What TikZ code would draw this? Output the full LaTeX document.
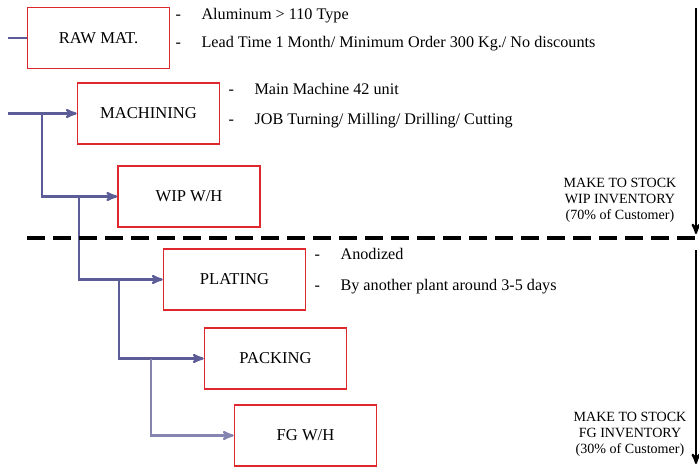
\documentclass[tikz,border=0pt]{standalone}
\usepackage{fontspec}
\setmainfont{Liberation Serif}
\usetikzlibrary{positioning}
\usetikzlibrary{arrows}
\usetikzlibrary{calc}
\definecolor{boxred}{RGB}{222,40,45}
\definecolor{flowblue}{RGB}{92,92,150}
\tikzset{
    x=0.025cm, y=-0.025cm,
    every node/.append style={
        font=\fontsize{11}{13}\selectfont
    },
    stagebox/.style={
        draw=boxred,
        line width=1.1pt,
        minimum width=3.55cm,
        minimum height=1.52cm,
        inner sep=0pt,
        font=\fontsize{11.8}{13}\selectfont
    },
    flow/.style={
        draw=flowblue,
        line width=1.6pt,
        ->,>=stealth'
    },
    note/.style={
        anchor=west,
        inner sep=0pt,
        text height=1.6ex,
        text depth=0.4ex,
        font=\fontsize{11.5}{13}\selectfont
    },
    stocknote/.style={
        align=center,
        inner sep=0pt,
        font=\fontsize{10}{11.4}\selectfont
    },
    stockarrow/.style={
        draw=black,
        line width=1.5pt,
        ->,>=stealth'
    },
    divider/.style={
        draw=black,
        line width=2.2pt,
        dash pattern=on 0.45cm off 0.2cm
    }
}

\begin{document}
\begin{tikzpicture}
                \useasboundingbox (0,0) rectangle (699,468);

                % stages
                \node[stagebox] (raw) at (98.5,38) {RAW MAT.};
                \node[stagebox] (mach) at (148.5,113.5) {MACHINING};
                \node[stagebox] (wip) at (189,196.5) {WIP W/H};
                \node[stagebox] (plat) at (234.5,279.5) {PLATING};
                \node[stagebox] (pack) at (275.5,358.5) {PACKING};
                \node[stagebox] (fg) at (305.5,435.5) {FG W/H};

                % notes beside the stages
                \node[note] (rawdA) at ($(raw.east)+(5,-22)$) {-};
                \node[note] (rawA) at ($(raw.east)+(31,-22)$) {Aluminum > 110 Type};
                \node[note] (rawdB) at ($(raw.east)+(5,6)$) {-};
                \node[note] (rawB) at ($(raw.east)+(31,6)$) {Lead Time 1 Month/ Minimum Order 300 Kg./ No discounts};
                \node[note] (machdA) at ($(mach.east)+(8,-22.5)$) {-};
                \node[note] (machA) at ($(mach.east)+(34,-22.5)$) {Main Machine 42 unit};
                \node[note] (machdB) at ($(mach.east)+(8,7.5)$) {-};
                \node[note] (machB) at ($(mach.east)+(34,7.5)$) {JOB Turning/ Milling/ Drilling/ Cutting};
                \node[note] (platdA) at ($(plat.east)+(8,-23.5)$) {-};
                \node[note] (platA) at ($(plat.east)+(34,-23.5)$) {Anodized};
                \node[note] (platdB) at ($(plat.east)+(8,7.5)$) {-};
                \node[note] (platB) at ($(plat.east)+(34,7.5)$) {By another plant around 3-5 days};

                % flow
                \coordinate (rawin) at (8,38);
                \coordinate (machin) at (8,113.5);
                \coordinate (j1) at (42,113.5);
                \coordinate (j2) at (79,196.5);
                \coordinate (j3) at (119,279.5);
                \coordinate (j4) at (151,358.5);

                \draw[flow, -] (rawin) -- (raw.west);
                \draw[flow] (machin) -- (mach.west);
                \draw[flow] (j1) |- (wip.west);
                \draw[flow] (j2) |- (plat.west);
                \draw[flow] (j3) |- (pack.west);
                \draw[flow, draw=flowblue!75] (j4) |- (fg.west);

                % make to stock split
                \coordinate (divL) at (27,238);
                \coordinate (divR) at (699,238);
                \draw[divider] (divL) -- (divR);

                \coordinate (wiptop) at (696,8);
                \coordinate (wipbot) at (696,234);
                \coordinate (fgtop) at (696,250);
                \coordinate (fgbot) at (696,464);
                \draw[stockarrow] (wiptop) -- (wipbot);
                \draw[stockarrow] (fgtop) -- (fgbot);

                \node[stocknote] (wipstock) at (620,200) {MAKE TO STOCK\\WIP INVENTORY\\(70\% of Customer)};
                \node[stocknote] (fgstock) at (630,434) {MAKE TO STOCK\\FG INVENTORY\\(30\% of Customer)};
            \end{tikzpicture}
\end{document}
